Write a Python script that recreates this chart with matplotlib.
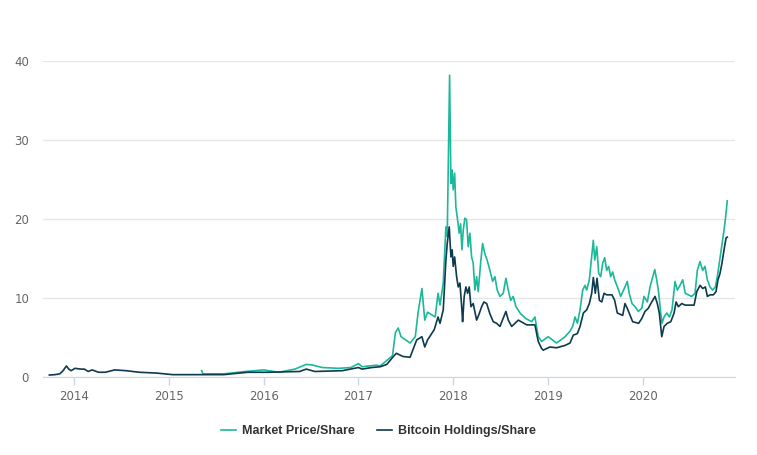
import matplotlib
matplotlib.use("Agg")
import matplotlib.pyplot as plt

# Fechas en años decimales (2018.0 = 1 de enero de 2018)

# Bitcoin Holdings/Share (línea oscura)
anio_holdings = [
    2013.74, 2013.80, 2013.85, 2013.885, 2013.92, 2013.945, 2013.97, 2014.01, 2014.07,
    2014.11, 2014.15, 2014.19, 2014.26, 2014.33, 2014.43, 2014.55, 2014.69, 2014.87,
    2015.04, 2015.25, 2015.58, 2015.83, 2016.04, 2016.38, 2016.45, 2016.54, 2016.83,
    2017.00, 2017.04, 2017.14, 2017.23, 2017.30, 2017.355, 2017.40, 2017.47, 2017.545,
    2017.615, 2017.67, 2017.70, 2017.73, 2017.80, 2017.84, 2017.861, 2017.895, 2017.923,
    2017.937, 2017.958, 2017.976, 2017.989, 2018.000, 2018.015, 2018.036, 2018.053, 2018.071,
    2018.092, 2018.099, 2018.116, 2018.134, 2018.152, 2018.169, 2018.187, 2018.211, 2018.247,
    2018.274, 2018.300, 2018.324, 2018.353, 2018.387, 2018.422, 2018.458, 2018.493, 2018.556,
    2018.581, 2018.617, 2018.687, 2018.776, 2018.862, 2018.897, 2018.933, 2018.95, 2019.02,
    2019.09, 2019.18, 2019.232, 2019.267, 2019.31, 2019.338, 2019.373, 2019.408, 2019.436,
    2019.461, 2019.478, 2019.499, 2019.517, 2019.542, 2019.567, 2019.591, 2019.619, 2019.675,
    2019.703, 2019.731, 2019.788, 2019.812, 2019.836, 2019.893, 2019.956, 2019.989, 2020.023,
    2020.058, 2020.094, 2020.129, 2020.153, 2020.174, 2020.200, 2020.224, 2020.259, 2020.295,
    2020.330, 2020.351, 2020.375, 2020.411, 2020.446, 2020.491, 2020.541, 2020.569, 2020.604,
    2020.632, 2020.660, 2020.681, 2020.709, 2020.744, 2020.772, 2020.793, 2020.814, 2020.835,
    2020.857, 2020.878, 2020.891,
]
valor_holdings = [
    0.25, 0.3, 0.4, 0.8, 1.4, 1.0, 0.8, 1.1, 1.0,
    1.0, 0.7, 0.9, 0.6, 0.6, 0.9, 0.8, 0.6, 0.5,
    0.3, 0.3, 0.3, 0.6, 0.6, 0.7, 1.0, 0.7, 0.8,
    1.2, 1.0, 1.2, 1.3, 1.6, 2.4, 3.0, 2.6, 2.5,
    4.7, 5.1, 3.8, 4.7, 6.0, 7.6, 6.8, 8.5, 14.8,
    16.9, 19.0, 15.2, 16.1, 14.0, 15.2, 12.7, 11.4, 11.9,
    8.5, 7.0, 10.2, 11.4, 10.6, 11.4, 8.9, 9.3, 7.2,
    8.0, 8.9, 9.5, 9.3, 8.0, 7.0, 6.8, 6.4, 8.3,
    7.2, 6.4, 7.2, 6.6, 6.6, 4.5, 3.6, 3.4, 3.8,
    3.7, 4.0, 4.3, 5.3, 5.5, 6.4, 8.1, 8.5, 9.3,
    10.6, 12.6, 10.6, 12.5, 9.7, 9.5, 10.6, 10.4, 10.4,
    9.7, 8.1, 7.8, 9.3, 8.7, 7.0, 6.8, 7.4, 8.3,
    8.7, 9.5, 10.2, 9.3, 8.1, 5.1, 6.4, 6.8, 7.0,
    8.1, 9.5, 8.9, 9.3, 9.1, 9.1, 9.1, 10.8, 11.6,
    11.2, 11.4, 10.2, 10.4, 10.4, 10.8, 12.3, 13.1, 14.4,
    16.1, 17.6, 17.7,
]

# Market Price/Share (línea verde), cotiza desde mayo de 2015
anio_mercado = [
    2015.347, 2015.36, 2015.58, 2015.81, 2016.00, 2016.16, 2016.33, 2016.45, 2016.52,
    2016.62, 2016.79, 2016.92, 2017.00, 2017.04, 2017.19, 2017.23, 2017.36, 2017.39,
    2017.42, 2017.45, 2017.545, 2017.60, 2017.63, 2017.67, 2017.70, 2017.73, 2017.81,
    2017.84, 2017.861, 2017.895, 2017.923, 2017.937, 2017.962, 2017.976, 2017.989, 2018.000,
    2018.015, 2018.028, 2018.042, 2018.063, 2018.078, 2018.092, 2018.106, 2018.123, 2018.141,
    2018.158, 2018.176, 2018.194, 2018.211, 2018.229, 2018.247, 2018.264, 2018.289, 2018.310,
    2018.334, 2018.358, 2018.387, 2018.416, 2018.440, 2018.464, 2018.493, 2018.528, 2018.556,
    2018.581, 2018.606, 2018.633, 2018.662, 2018.711, 2018.767, 2018.827, 2018.862, 2018.897,
    2018.933, 2019.002, 2019.09, 2019.18, 2019.232, 2019.26, 2019.285, 2019.31, 2019.338,
    2019.366, 2019.39, 2019.408, 2019.436, 2019.478, 2019.493, 2019.514, 2019.535, 2019.556,
    2019.577, 2019.598, 2019.619, 2019.640, 2019.661, 2019.682, 2019.703, 2019.745, 2019.766,
    2019.812, 2019.836, 2019.857, 2019.886, 2019.918, 2019.953, 2019.989, 2020.013, 2020.048,
    2020.076, 2020.105, 2020.126, 2020.147, 2020.168, 2020.189, 2020.203, 2020.224, 2020.253,
    2020.280, 2020.308, 2020.340, 2020.364, 2020.392, 2020.421, 2020.448, 2020.480, 2020.516,
    2020.551, 2020.575, 2020.603, 2020.632, 2020.656, 2020.681, 2020.709, 2020.737, 2020.765,
    2020.786, 2020.807, 2020.832, 2020.857, 2020.874, 2020.891,
]
valor_mercado = [
    0.8, 0.4, 0.4, 0.7, 0.9, 0.6, 1.0, 1.6, 1.5,
    1.2, 1.1, 1.2, 1.7, 1.3, 1.5, 1.4, 2.7, 5.6,
    6.2, 5.1, 4.3, 5.1, 8.2, 11.2, 7.2, 8.2, 7.6,
    10.6, 9.1, 11.9, 19.0, 17.8, 38.2, 24.5, 26.2, 23.7,
    25.8, 21.5, 20.3, 18.2, 19.4, 16.1, 18.6, 20.1, 19.9,
    16.5, 18.2, 15.2, 14.4, 11.0, 12.7, 10.8, 14.4, 16.9,
    15.6, 14.8, 13.5, 12.1, 12.7, 11.0, 10.2, 10.6, 12.5,
    11.0, 9.7, 10.2, 8.9, 8.0, 7.4, 7.0, 7.6, 5.1,
    4.5, 5.1, 4.3, 5.1, 5.8, 6.4, 7.6, 6.8, 8.5,
    11.0, 11.6, 11.0, 12.3, 17.3, 14.8, 16.5, 13.1, 12.7,
    14.4, 15.1, 13.5, 14.0, 12.7, 13.3, 12.3, 11.0, 10.2,
    11.4, 12.1, 10.6, 9.3, 8.9, 8.3, 8.7, 10.2, 9.5,
    11.4, 12.7, 13.6, 12.3, 10.6, 8.1, 6.8, 7.6, 8.1,
    7.6, 8.5, 12.1, 11.0, 11.6, 12.3, 10.6, 10.4, 10.2,
    10.6, 13.5, 14.6, 13.5, 14.0, 12.3, 11.4, 11.0, 11.4,
    12.7, 14.4, 16.5, 18.6, 20.3, 22.3,
]

ticks_y = [0, 10, 20, 30, 40]
anios = [2014, 2015, 2016, 2017, 2018, 2019, 2020]

COLOR_MERCADO = "#1cb89a"
COLOR_HOLDINGS = "#0d3a4f"


def graficar_series(ax):
    ax.plot(anio_mercado, valor_mercado, color=COLOR_MERCADO, linewidth=1.2,
            label="Market Price/Share", zorder=2)
    ax.plot(anio_holdings, valor_holdings, color=COLOR_HOLDINGS, linewidth=1.2,
            label="Bitcoin Holdings/Share", zorder=3)


def configurar_ejes(ax):
    ax.set_xlim(2013.673, 2020.973)
    ax.set_ylim(0, 40)
    ax.set_yticks(ticks_y)
    ax.set_yticklabels([str(v) for v in ticks_y])
    ax.set_xticks(anios)
    ax.set_xticklabels([str(a) for a in anios])
    ax.grid(axis="y", color="#e6e6e6", linewidth=1, zorder=0)
    for lado in ["top", "right", "left"]:
        ax.spines[lado].set_visible(False)
    ax.spines["bottom"].set_color("#ccd6eb")
    ax.tick_params(axis="y", length=0, pad=10, labelsize=8.5, labelcolor="#666666")
    ax.tick_params(axis="x", length=6, width=1, color="#ccd6eb", pad=3,
                   labelsize=8.5, labelcolor="#666666")
    ax.set_axisbelow(True)


fig = plt.figure(figsize=(7.57, 4.55), dpi=100)
ax = fig.add_axes([0.0568, 0.1714, 0.9142, 0.6946])

graficar_series(ax)
configurar_ejes(ax)

# Leyenda centrada debajo del gráfico
fig.legend(loc="center", bbox_to_anchor=(0.5, 0.053), ncol=2, frameon=False,
           handlelength=1.2, handletextpad=0.5, columnspacing=1.8,
           prop={"family": "Liberation Sans", "weight": "bold", "size": 9},
           labelcolor="#333333")

fig.savefig("out.png", dpi=100)
